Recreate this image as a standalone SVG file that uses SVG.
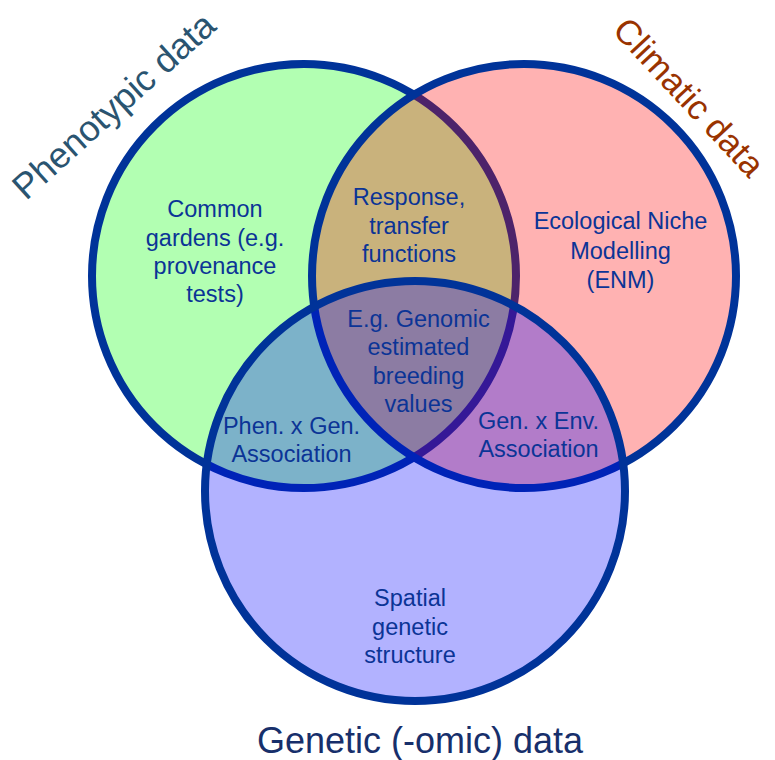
<svg xmlns="http://www.w3.org/2000/svg" width="775" height="760" viewBox="0 0 775 760">
<style>
.c{stroke:#003399;stroke-width:8;fill-opacity:0.3}
.t{font-family:"Liberation Sans",Arial,sans-serif;font-size:23.5px;fill:#0B3496;text-anchor:middle}
.h{font-family:"Liberation Sans",Arial,sans-serif;font-size:36px;text-anchor:middle}
</style>
<rect width="775" height="760" fill="#ffffff"/>
<g id="phenotypic">
<circle class="c" cx="304" cy="276" r="212" fill="#00ff00"/>
</g>
<g id="climatic">
<circle class="c" cx="524" cy="276" r="212" fill="#ff0000"/>
</g>
<g id="genetic">
<circle class="c" cx="415" cy="491" r="210" fill="#0000ff"/>
</g>
<g id="labels">
<text class="t" x="215" y="217">Common</text>
<text class="t" x="215" y="245.5">gardens (e.g.</text>
<text class="t" x="215" y="274">provenance</text>
<text class="t" x="215" y="302">tests)</text>
<text class="t" x="409" y="205">Response,</text>
<text class="t" x="409" y="233.5">transfer</text>
<text class="t" x="409" y="262">functions</text>
<text class="t" x="620.5" y="229">Ecological Niche</text>
<text class="t" x="620.5" y="258.5">Modelling</text>
<text class="t" x="620.5" y="288">(ENM)</text>
<text class="t" x="418.5" y="327">E.g. Genomic</text>
<text class="t" x="418.5" y="355">estimated</text>
<text class="t" x="418.5" y="383.5">breeding</text>
<text class="t" x="418.5" y="412">values</text>
<text class="t" x="291.5" y="434">Phen. x Gen.</text>
<text class="t" x="291.5" y="462">Association</text>
<text class="t" x="538.5" y="428.5">Gen. x Env.</text>
<text class="t" x="538.5" y="457">Association</text>
<text class="t" x="410" y="606">Spatial</text>
<text class="t" x="410" y="634.5">genetic</text>
<text class="t" x="410" y="663">structure</text>
</g>
<g id="titles">
<text class="h" fill="#2A5470" transform="translate(114,106) rotate(-42)" x="0" y="12">Phenotypic data</text>
<text class="h" fill="#993300" style="font-size:35px" transform="translate(689,97) rotate(47)" x="0" y="12">Climatic data</text>
<text class="h" fill="#172F6B" x="420" y="753">Genetic (-omic) data</text>
</g>
</svg>
